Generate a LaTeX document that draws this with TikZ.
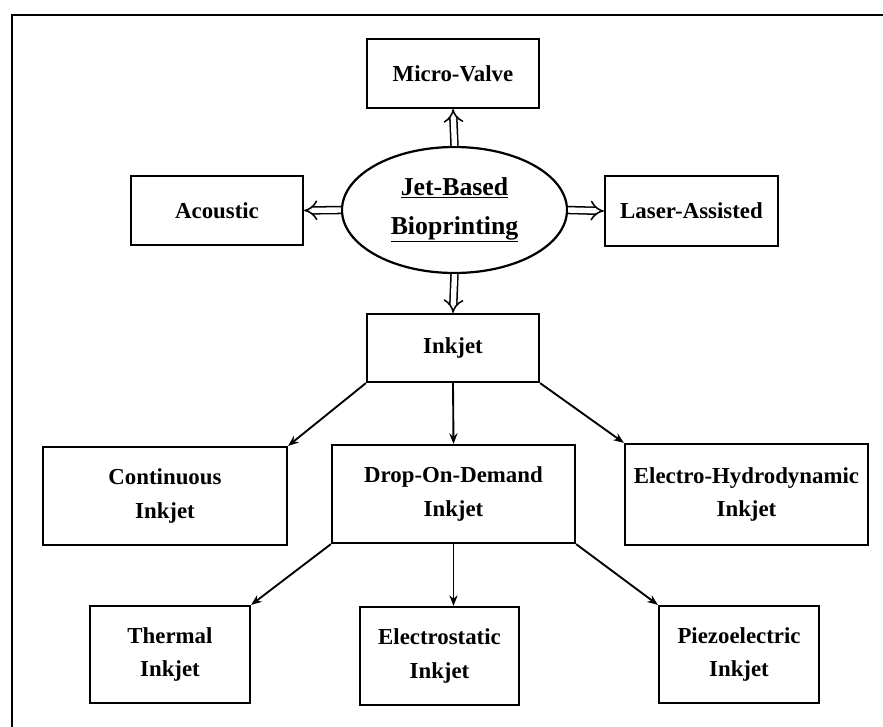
\documentclass[tikz,border=0pt]{standalone}
\usepackage{fontspec}
\setmainfont{Liberation Serif}
\usetikzlibrary{arrows.meta,shapes.geometric}

\tikzset{
  box/.style={draw, line width=1.9pt, align=center, inner sep=0pt,
    font=\bfseries\fontsize{19.5}{29}\selectfont},
  hollow/.style={double, double distance=4.6pt, line width=1.3pt, -{Implies[scale=1.3]}},
  link/.style={line width=1.6pt, -{Stealth[length=9pt,width=7pt]}}
}

\begin{document}
\begin{tikzpicture}[x=0.03cm, y=-0.03cm]
\useasboundingbox (0,0) rectangle (883,727);
\clip (0,0) rectangle (883,727);
\draw[line width=1.4pt] (12,740) |- (900,15);

% centre and the four methods
\node[ellipse, draw, line width=1.9pt, minimum width=6.75cm, minimum height=3.78cm, align=center,
  font=\bfseries\fontsize{22}{33}\selectfont] (jet) at (454.5,210) {\underline{Jet-Based}\\\underline{Bioprinting}};
\node[box, minimum width=5.16cm, minimum height=2.07cm] (micro) at (453,73.5) {Micro-Valve};
\node[box, minimum width=5.16cm, minimum height=2.07cm] (acoustic) at (217,210.5) {Acoustic};
\node[box, minimum width=5.19cm, minimum height=2.1cm] (laser) at (691.5,211) {Laser-Assisted};
\node[box, minimum width=5.16cm, minimum height=2.04cm] (inkjet) at (453,348) {Inkjet};

\draw[hollow] (jet.north) -- (micro.south);
\draw[hollow] (jet.west) -- (acoustic.east);
\draw[hollow] (jet.east) -- (laser.west);
\draw[hollow] (jet.south) -- (inkjet.north);

% inkjet types
\node[box, minimum width=7.32cm, minimum height=2.94cm] (cont) at (165,496) {Continuous\\Inkjet};
\node[box, minimum width=7.29cm, minimum height=2.94cm] (dod) at (453.5,494) {Drop-On-Demand\\Inkjet};
\node[box, minimum width=7.29cm, minimum height=3.03cm] (ehd) at (746.5,494.5) {Electro-Hydrodynamic\\Inkjet};

\draw[link] (inkjet.south west) -- (cont.north east);
\draw[link] (inkjet.south) -- (dod.north);
\draw[link] (inkjet.south east) -- (ehd.north west);

% drop-on-demand types
\node[box, minimum width=4.8cm, minimum height=2.91cm] (thermal) at (170,654.5) {Thermal\\Inkjet};
\node[box, minimum width=4.77cm, minimum height=2.94cm] (estatic) at (439.5,656) {Electrostatic\\Inkjet};
\node[box, minimum width=4.8cm, minimum height=2.91cm] (piezo) at (739,654.5) {Piezoelectric\\Inkjet};

\draw[link] (dod.south west) -- (thermal.north east);
\draw[link] (dod.south) -- (dod.south |- estatic.north);
\draw[link] (dod.south east) -- (piezo.north west);
\end{tikzpicture}
\end{document}
